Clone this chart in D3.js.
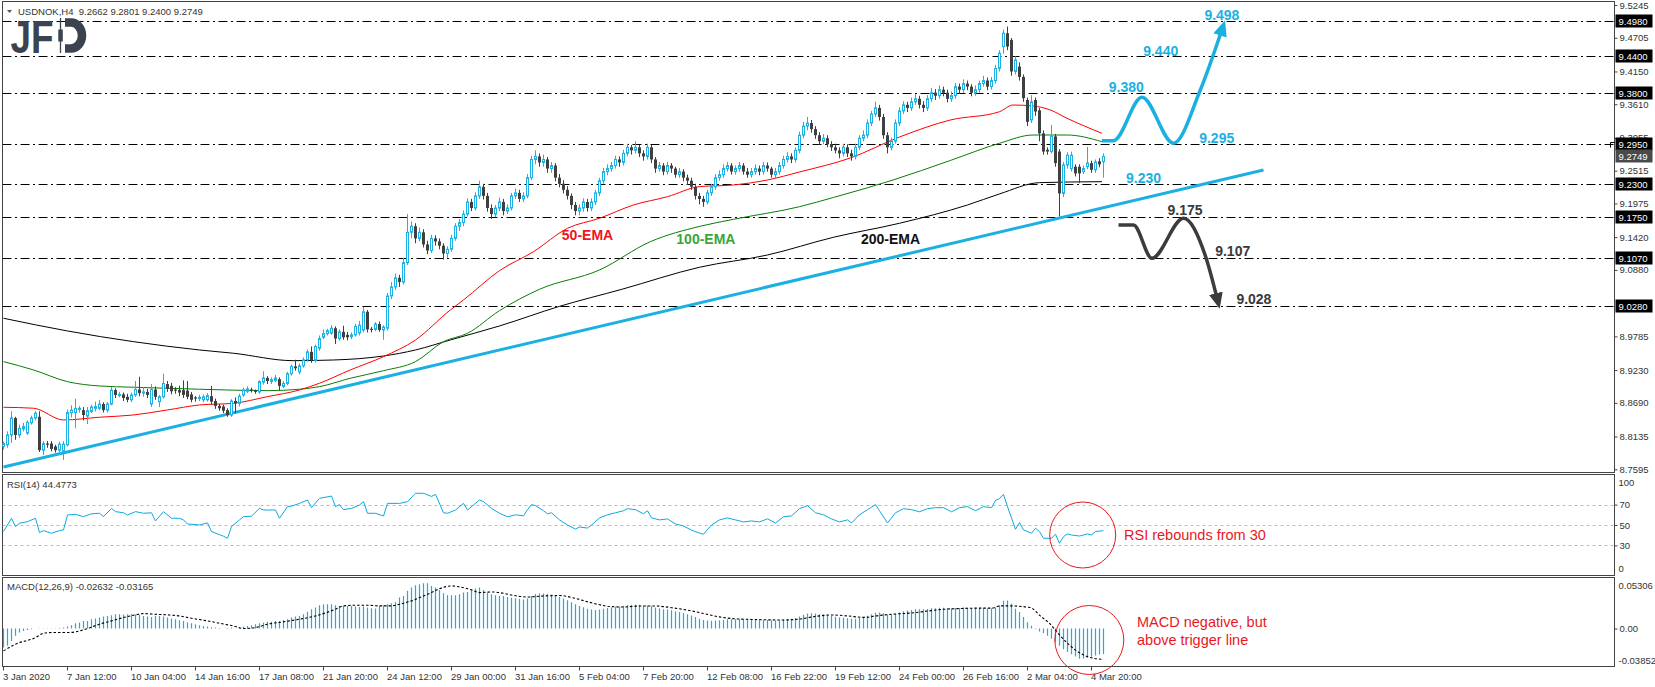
<!DOCTYPE html>
<html><head><meta charset="utf-8">
<script src="https://cdn.jsdelivr.net/npm/d3@7"></script>
<style>
html,body{margin:0;padding:0;background:#fff;}
svg{display:block;}
text{font-family:"Liberation Sans",Arial,sans-serif;}
</style></head><body>
<svg id="c" width="1655" height="687"></svg>
<script>
// ---------------- DATA ----------------
const symbolTitle = "USDNOK,H4  9.2662 9.2801 9.2400 9.2749";
const rsiTitle = "RSI(14) 44.4773";
const macdTitle = "MACD(12,26,9) -0.02632 -0.03165";

const opens = [
8.797,8.800,8.816,8.844,8.816,8.826,8.819,8.836,8.844,8.846,
8.791,8.802,8.802,8.797,8.791,8.789,8.800,8.853,8.853,8.858,
8.857,8.847,8.855,8.860,8.860,8.867,8.857,8.867,8.890,8.881,
8.883,8.879,8.874,8.882,8.891,8.885,8.887,8.867,8.891,8.871,
8.879,8.900,8.897,8.891,8.890,8.890,8.889,8.883,8.878,8.876,
8.874,8.874,8.880,8.872,8.864,8.863,8.857,8.849,8.872,8.868,
8.882,8.888,8.891,8.889,8.887,8.903,8.910,8.904,8.906,8.908,
8.896,8.901,8.917,8.929,8.920,8.930,8.940,8.953,8.939,8.959,
8.977,8.983,8.984,8.992,8.975,8.986,8.981,8.978,8.981,8.984,
8.989,9.019,8.991,8.990,8.999,8.989,8.992,9.045,9.060,9.075,
9.068,9.100,9.150,9.160,9.140,9.150,9.130,9.120,9.140,9.135,
9.128,9.115,9.122,9.140,9.160,9.166,9.180,9.200,9.190,9.210,
9.225,9.210,9.190,9.180,9.190,9.200,9.185,9.190,9.210,9.215,
9.205,9.210,9.240,9.270,9.275,9.265,9.270,9.255,9.260,9.240,
9.230,9.220,9.210,9.195,9.185,9.190,9.200,9.190,9.200,9.215,
9.235,9.250,9.255,9.260,9.270,9.265,9.280,9.290,9.285,9.290,
9.280,9.275,9.290,9.270,9.255,9.260,9.250,9.260,9.255,9.245,
9.250,9.240,9.235,9.225,9.210,9.205,9.200,9.215,9.225,9.240,
9.245,9.255,9.260,9.250,9.255,9.260,9.250,9.245,9.250,9.255,
9.250,9.260,9.255,9.245,9.250,9.260,9.270,9.275,9.270,9.285,
9.310,9.325,9.330,9.320,9.310,9.300,9.305,9.295,9.290,9.285,
9.280,9.290,9.280,9.275,9.290,9.305,9.310,9.330,9.345,9.355,
9.340,9.310,9.290,9.300,9.330,9.350,9.360,9.355,9.365,9.370,
9.360,9.355,9.370,9.380,9.375,9.385,9.380,9.370,9.375,9.390,
9.385,9.395,9.390,9.380,9.385,9.395,9.400,9.390,9.400,9.420,
9.456,9.478,9.467,9.415,9.423,9.406,9.368,9.335,9.368,9.351,
9.313,9.286,9.283,9.308,9.283,9.214,9.261,9.255,9.258,9.258,
9.250,9.258,9.264,9.253,9.267,9.2662];
const highs = [
8.805,8.822,8.855,8.846,8.833,8.836,8.840,8.848,8.855,8.855,
8.806,8.806,8.806,8.800,8.805,8.806,8.858,8.865,8.876,8.864,
8.862,8.862,8.866,8.871,8.874,8.870,8.870,8.895,8.893,8.887,
8.886,8.884,8.886,8.905,8.912,8.895,8.892,8.900,8.896,8.882,
8.917,8.905,8.902,8.895,8.897,8.906,8.905,8.887,8.880,8.882,
8.883,8.885,8.897,8.876,8.867,8.866,8.860,8.875,8.878,8.884,
8.894,8.896,8.894,8.891,8.906,8.921,8.913,8.911,8.915,8.911,
8.905,8.920,8.932,8.940,8.934,8.944,8.957,8.962,8.965,8.980,
8.990,8.991,8.997,8.995,8.990,8.996,8.986,8.985,8.999,9.004,
9.027,9.022,8.994,9.002,9.003,8.997,9.050,9.068,9.082,9.080,
9.108,9.180,9.168,9.165,9.158,9.155,9.136,9.146,9.145,9.140,
9.132,9.127,9.146,9.165,9.172,9.186,9.206,9.205,9.216,9.235,
9.230,9.215,9.196,9.195,9.207,9.205,9.196,9.215,9.222,9.220,
9.216,9.246,9.276,9.285,9.280,9.278,9.274,9.266,9.264,9.246,
9.236,9.226,9.214,9.200,9.196,9.206,9.205,9.206,9.220,9.240,
9.256,9.262,9.266,9.276,9.275,9.286,9.296,9.294,9.300,9.294,
9.285,9.296,9.294,9.274,9.266,9.264,9.266,9.264,9.258,9.256,
9.254,9.245,9.240,9.230,9.215,9.210,9.220,9.230,9.246,9.252,
9.262,9.266,9.264,9.260,9.266,9.264,9.256,9.256,9.262,9.260,
9.266,9.265,9.258,9.256,9.266,9.276,9.282,9.280,9.290,9.316,
9.332,9.340,9.335,9.325,9.315,9.312,9.310,9.300,9.296,9.290,
9.296,9.295,9.286,9.296,9.310,9.318,9.336,9.350,9.365,9.360,
9.345,9.315,9.306,9.336,9.356,9.366,9.365,9.372,9.378,9.375,
9.366,9.376,9.388,9.386,9.392,9.390,9.385,9.382,9.396,9.395,
9.402,9.400,9.394,9.392,9.400,9.408,9.405,9.406,9.426,9.450,
9.484,9.489,9.470,9.440,9.430,9.410,9.372,9.376,9.372,9.355,
9.318,9.290,9.327,9.312,9.287,9.266,9.282,9.283,9.262,9.262,
9.260,9.291,9.268,9.270,9.272,9.2801];
const lows = [
8.792,8.795,8.803,8.808,8.811,8.822,8.816,8.833,8.840,8.788,
8.783,8.795,8.789,8.787,8.788,8.775,8.797,8.845,8.827,8.853,
8.840,8.834,8.852,8.855,8.857,8.853,8.853,8.865,8.877,8.878,
8.872,8.870,8.870,8.879,8.880,8.879,8.877,8.862,8.874,8.862,
8.876,8.887,8.883,8.884,8.880,8.877,8.875,8.870,8.871,8.872,
8.870,8.871,8.866,8.859,8.856,8.852,8.846,8.846,8.852,8.863,
8.879,8.885,8.886,8.884,8.884,8.899,8.900,8.900,8.903,8.890,
8.893,8.898,8.914,8.922,8.916,8.927,8.937,8.935,8.935,8.955,
8.974,8.980,8.981,8.966,8.972,8.973,8.972,8.974,8.978,8.980,
8.985,8.985,8.985,8.987,8.986,8.973,8.988,9.040,9.055,9.060,
9.064,9.096,9.140,9.132,9.135,9.125,9.114,9.116,9.128,9.122,
9.105,9.108,9.118,9.136,9.152,9.160,9.176,9.185,9.186,9.205,
9.204,9.184,9.172,9.175,9.185,9.178,9.180,9.186,9.205,9.200,
9.200,9.206,9.236,9.262,9.258,9.258,9.248,9.248,9.234,9.224,
9.214,9.204,9.188,9.178,9.178,9.184,9.184,9.185,9.195,9.210,
9.230,9.244,9.250,9.255,9.258,9.260,9.275,9.278,9.280,9.274,
9.268,9.270,9.264,9.248,9.250,9.244,9.245,9.248,9.240,9.240,
9.234,9.228,9.220,9.204,9.196,9.192,9.196,9.210,9.220,9.235,
9.240,9.250,9.245,9.245,9.250,9.245,9.240,9.240,9.245,9.244,
9.245,9.250,9.240,9.238,9.245,9.255,9.265,9.264,9.265,9.280,
9.305,9.318,9.314,9.304,9.294,9.295,9.290,9.284,9.280,9.272,
9.275,9.274,9.268,9.270,9.285,9.300,9.305,9.325,9.340,9.334,
9.304,9.280,9.285,9.296,9.325,9.345,9.348,9.350,9.360,9.354,
9.348,9.350,9.365,9.368,9.370,9.374,9.364,9.365,9.370,9.378,
9.380,9.384,9.374,9.375,9.380,9.390,9.384,9.385,9.395,9.415,
9.444,9.450,9.408,9.410,9.400,9.365,9.325,9.330,9.342,9.300,
9.278,9.278,9.280,9.258,9.176,9.208,9.255,9.250,9.242,9.231,
9.246,9.254,9.248,9.248,9.257,9.2400];
const closes = [
8.802,8.816,8.844,8.816,8.827,8.830,8.837,8.844,8.852,8.791,
8.802,8.800,8.793,8.791,8.801,8.801,8.853,8.857,8.860,8.860,
8.849,8.856,8.862,8.863,8.867,8.857,8.867,8.890,8.882,8.883,
8.877,8.874,8.882,8.891,8.885,8.887,8.882,8.891,8.879,8.879,
8.901,8.892,8.888,8.889,8.886,8.882,8.879,8.874,8.876,8.878,
8.879,8.881,8.871,8.864,8.860,8.856,8.849,8.872,8.868,8.880,
8.890,8.892,8.889,8.887,8.904,8.910,8.905,8.907,8.910,8.897,
8.901,8.917,8.929,8.926,8.930,8.940,8.953,8.939,8.962,8.975,
8.983,8.988,8.992,8.975,8.986,8.977,8.977,8.981,8.995,8.997,
9.019,8.990,8.989,8.999,8.989,8.994,9.045,9.060,9.075,9.068,
9.100,9.150,9.160,9.140,9.150,9.130,9.120,9.140,9.135,9.128,
9.115,9.122,9.140,9.160,9.166,9.180,9.200,9.190,9.210,9.225,
9.210,9.190,9.180,9.190,9.200,9.185,9.190,9.210,9.215,9.205,
9.210,9.240,9.270,9.275,9.265,9.270,9.255,9.260,9.240,9.230,
9.220,9.210,9.195,9.185,9.190,9.200,9.190,9.200,9.215,9.235,
9.250,9.255,9.260,9.270,9.265,9.280,9.290,9.285,9.290,9.280,
9.275,9.290,9.270,9.255,9.260,9.250,9.260,9.255,9.245,9.250,
9.240,9.235,9.225,9.210,9.205,9.200,9.215,9.225,9.240,9.245,
9.255,9.260,9.250,9.255,9.260,9.250,9.245,9.250,9.255,9.250,
9.260,9.255,9.245,9.250,9.260,9.270,9.275,9.270,9.285,9.310,
9.325,9.330,9.320,9.310,9.300,9.305,9.295,9.290,9.285,9.280,
9.290,9.280,9.275,9.290,9.305,9.310,9.330,9.345,9.355,9.340,
9.310,9.290,9.300,9.330,9.350,9.360,9.355,9.365,9.370,9.360,
9.355,9.370,9.380,9.375,9.385,9.380,9.370,9.375,9.390,9.385,
9.395,9.390,9.380,9.385,9.395,9.400,9.390,9.400,9.420,9.445,
9.478,9.456,9.415,9.434,9.406,9.371,9.332,9.365,9.349,9.313,
9.283,9.283,9.308,9.264,9.214,9.261,9.277,9.277,9.247,9.247,
9.255,9.264,9.253,9.266,9.262,9.2749];

// moving averages: [bar index, value]
const ema50 = [[0,8.8617],[7.5,8.8601],[15,8.8408],[24,8.8453],[32.5,8.8490],[41,8.8573],[49,8.8655],[57.5,8.8683],[66,8.8792],[74,8.8902],[79,8.9013],[86.7,8.9232],[95,8.9451],[103,8.9726],[111.7,9.0220],[115,9.0385],[124,9.0868],[132.5,9.1181],[141,9.1566],[149,9.1731],[157.5,9.1950],[166,9.2087],[174,9.2252],[182.5,9.2280],[191,9.2362],[199,9.2494],[211.7,9.2724],[224,9.3070],[236.7,9.3350],[249,9.3487],[252.4,9.3597],[257.4,9.3581],[261.7,9.3515],[265.9,9.3378],[274.6,9.3131]];
const ema100 = [[0,8.9369],[7.5,8.9232],[16,8.9039],[24,8.8968],[32.5,8.8947],[49,8.8914],[66,8.8891],[74,8.8914],[79,8.8957],[86.7,8.9095],[95,8.9220],[103,8.9369],[110,8.9698],[116,8.9836],[124,9.0209],[134,9.0561],[149,9.0879],[161.7,9.1345],[174.2,9.1600],[182.5,9.1714],[199,9.1922],[207.5,9.2074],[215.8,9.2230],[222.4,9.2362],[236.7,9.2683],[249,9.2967],[257.4,9.3103],[265.9,9.3103],[274.6,9.2993]];
const ema200 = [[0,9.0084],[16,8.9874],[32.5,8.9698],[49,8.9561],[57.5,8.9507],[72.4,8.9385],[82.5,8.9396],[95,8.9462],[103,8.9561],[111.7,8.9726],[124,8.9957],[139,9.0280],[154.6,9.0561],[174,9.0924],[191,9.1126],[207.5,9.1418],[224,9.1649],[241,9.1950],[249,9.2132],[259,9.2318],[274.6,9.2334]];

const rsi = [[0,43.6],[2,56.6],[3,48.5],[4,51.7],[6,53.3],[8,56.6],[9,42.6],[10,44.5],[12,41.9],[14,44.5],[15,45.2],[16,59.8],[18,60.5],[20,58.2],[22,61],[24,61.5],[25,58.2],[27,66.3],[28,63.1],[30,62],[31,59.8],[33,63.1],[35,61.5],[37,62],[38,54],[40,63.1],[42,56.6],[44,56.6],[45,55],[46,51],[49,50.1],[51,52],[52,43.6],[55,39],[56,37],[57,48.5],[59,55],[60,58.2],[62,58.7],[64,66.3],[65,64.7],[68,64.7],[69,56.6],[71,68],[72,68.5],[74,71.2],[76,74.5],[77,67],[79,76.1],[82,78.4],[83,68],[84,70],[85,65],[87,66.3],[89,69.6],[90,72.9],[91,61.5],[93,61.5],[95,58.8],[96,71.2],[99,71.2],[101,72.9],[103,81.1],[105,81.1],[107,78],[108,80],[110,62],[111,61.5],[113,64.7],[115,71.2],[116,64.7],[119,74.5],[120,72.9],[122,66.3],[124,61.5],[126,58],[128,60],[130,59],[131,65],[132,70],[133,69],[135,64],[136,61],[137,62],[139,55],[141,50],[143,46],[144,48],[146,47],[147,50],[149,57],[151,60],[153,62],[155,64],[156,66],[158,65],[160,61],[161,64],[162,57],[164,55],[166,56],[168,51],[170,49],[172,45],[174,42],[175,41],[177,50],[179,55],[181,57],[183,55],[185,53],[187,54],[189,53],[191,56],[193,52],[195,58],[197,59],[199,66],[201,69],[203,62],[205,60],[207,56],[209,53],[211,55],[212,52],[214,60],[216,65],[218,70],[219,64],[221,52],[223,62],[225,66],[227,65],[229,63],[231,66],[233,67],[235,67],[237,63],[239,67],[241,68],[243,64],[245,68],[247,67],[248,74],[249,76],[250,80],[251,68],[253,45.8],[254,52.4],[255,45.2],[257,41.9],[258,46.8],[259,43.6],[260,37],[262,37],[263,41],[264,32.1],[265,38.6],[266,41.2],[267,40.2],[269,39.2],[271,41.2],[272,40.2],[273,43.6],[275,44.48]];

const macd = [
-0.0196,-0.0178,-0.0127,-0.0075,-0.0041,-0.0024,-0.0014,-0.0007,0.0000,0.0003,
0.0003,0.0003,0.0003,0.0003,0.0007,0.0010,0.0021,0.0034,0.0055,0.0062,
0.0079,0.0079,0.0096,0.0103,0.0113,0.0123,0.0130,0.0137,0.0147,0.0147,
0.0144,0.0147,0.0147,0.0144,0.0141,0.0130,0.0123,0.0120,0.0130,0.0130,
0.0123,0.0113,0.0103,0.0096,0.0086,0.0079,0.0062,0.0055,0.0045,0.0034,
0.0027,0.0021,0.0014,0.0010,0.0007,0.0000,0.0007,0.0010,0.0000,0.0010,
0.0021,0.0027,0.0034,0.0045,0.0055,0.0062,0.0069,0.0069,0.0079,0.0079,
0.0089,0.0096,0.0113,0.0123,0.0130,0.0147,0.0172,0.0199,0.0216,0.0240,
0.0250,0.0250,0.0250,0.0240,0.0233,0.0233,0.0233,0.0233,0.0226,0.0223,
0.0226,0.0216,0.0209,0.0206,0.0233,0.0240,0.0250,0.0261,0.0274,0.0319,
0.0336,0.0388,0.0422,0.0446,0.0456,0.0466,0.0466,0.0439,0.0422,0.0398,
0.0364,0.0343,0.0343,0.0343,0.0353,0.0370,0.0377,0.0388,0.0412,0.0422,
0.0398,0.0370,0.0353,0.0343,0.0336,0.0336,0.0325,0.0318,0.0312,0.0305,
0.0300,0.0310,0.0335,0.0355,0.0360,0.0362,0.0355,0.0350,0.0340,0.0325,
0.0310,0.0292,0.0270,0.0250,0.0232,0.0220,0.0205,0.0195,0.0192,0.0195,
0.0205,0.0212,0.0218,0.0225,0.0228,0.0235,0.0242,0.0245,0.0246,0.0242,
0.0236,0.0238,0.0230,0.0218,0.0210,0.0200,0.0195,0.0188,0.0178,0.0170,
0.0160,0.0148,0.0135,0.0118,0.0102,0.0088,0.0082,0.0080,0.0082,0.0085,
0.0090,0.0095,0.0095,0.0096,0.0098,0.0095,0.0090,0.0088,0.0088,0.0086,
0.0088,0.0088,0.0085,0.0084,0.0086,0.0092,0.0098,0.0100,0.0108,0.0125,
0.0142,0.0155,0.0158,0.0155,0.0148,0.0145,0.0138,0.0130,0.0122,0.0115,
0.0112,0.0106,0.0100,0.0102,0.0110,0.0118,0.0132,0.0148,0.0162,0.0165,
0.0158,0.0145,0.0142,0.0150,0.0165,0.0178,0.0185,0.0192,0.0198,0.0200,
0.0198,0.0202,0.0208,0.0210,0.0214,0.0214,0.0210,0.0208,0.0212,0.0212,
0.0216,0.0215,0.0210,0.0208,0.0210,0.0212,0.0208,0.0208,0.0218,0.0240,
0.0285,0.0290,0.0255,0.0205,0.0170,0.0120,0.0065,0.0030,-0.0005,-0.0030,
-0.0045,-0.0075,-0.0105,-0.0140,-0.0178,-0.0213,-0.0240,-0.0264,-0.0288,-0.0310,
-0.0309,-0.0300,-0.0290,-0.0278,-0.0268,-0.0263];
const macdSignal = [[0,-0.0230],[3,-0.0161],[8,-0.0093],[10,-0.0048],[12,-0.0041],[16,-0.0041],[18,-0.0034],[21,0.0000],[24,0.0045],[27,0.0079],[30,0.0113],[33,0.0141],[35,0.0154],[38,0.0147],[41,0.0141],[44,0.0130],[47,0.0106],[51,0.0079],[54,0.0055],[58,0.0021],[60,0.0000],[63,0.0010],[66,0.0045],[70,0.0069],[74,0.0096],[78,0.0130],[83,0.0199],[85,0.0233],[88,0.0240],[91,0.0240],[94,0.0233],[97,0.0233],[99,0.0250],[102,0.0285],[105,0.0336],[107,0.0370],[109,0.0410],[112,0.0439],[114,0.0429],[117,0.0398],[119,0.0370],[122,0.0377],[124,0.0370],[127,0.0345],[131,0.0325],[135,0.0335],[139,0.0340],[143,0.0310],[147,0.0265],[151,0.0230],[155,0.0222],[159,0.0232],[163,0.0232],[167,0.0215],[171,0.0190],[175,0.0155],[179,0.0120],[183,0.0100],[187,0.0094],[191,0.0090],[195,0.0088],[199,0.0098],[203,0.0125],[207,0.0140],[211,0.0130],[215,0.0115],[219,0.0135],[223,0.0150],[227,0.0160],[231,0.0180],[235,0.0198],[239,0.0206],[243,0.0210],[247,0.0210],[249.2,0.0233],[251.7,0.0233],[256.7,0.0216],[259.2,0.0130],[261.7,0.0045],[264.2,-0.0075],[266.7,-0.0178],[269.2,-0.0254],[271.7,-0.0298],[275,-0.03165]];

const priceTicks = [9.5245,9.4705,9.4150,9.3610,9.3055,9.2515,9.1975,9.1420,9.0880,8.9785,8.9230,8.8690,8.8135,8.7595];
const levels = [9.4980,9.4400,9.3800,9.2950,9.2300,9.1750,9.1070,9.0280];
const lastPrice = 9.2749;
const rsiLevels = [70,50,30];
const timeLabels = ["3 Jan 2020","7 Jan 12:00","10 Jan 04:00","14 Jan 16:00","17 Jan 08:00","21 Jan 20:00","24 Jan 12:00","29 Jan 00:00","31 Jan 16:00","5 Feb 04:00","7 Feb 20:00","12 Feb 08:00","16 Feb 22:00","19 Feb 12:00","24 Feb 00:00","26 Feb 16:00","2 Mar 04:00","4 Mar 20:00"];
const timeLabelBars = [0,16,32,48,64,80,96,112,128,144,160,176,192,208,224,240,256,272];

// drawn analysis: [bar index, price]
const trendLine = [[0,8.7634],[315,9.2527]];
const bullPath = [[274.6,9.3009],[277.5,9.3009],[284.6,9.3724],[292.5,9.2967],[299.2,9.3845],[305,9.4916]];
const bearPath = [[278.75,9.1621],[282.5,9.1621],[287.1,9.1072],[295,9.1731],[300.4,9.1126],[303.75,9.0319]];
const bullLabels = [["9.498",304.6,9.5080],["9.440",289.3,9.4492],["9.380",280.7,9.3889],["9.295",303.3,9.3049],["9.230",285,9.2390]];
const bearLabels = [["9.175",295.4,9.1868],["9.107",307.3,9.1192],["9.028",312.6,9.0402]];
const emaLabels = [["50-EMA",146,9.1456,"#f0141e"],["100-EMA",175.6,9.1385,"#3aa63a"],["200-EMA",221.75,9.1385,"#111"]];

// ---------------- DRAW ----------------
const svg = d3.select("#c");
const BLUE = "#1bb0e2", DARK = "#3c3c3c", CANDLE_UP = "#1eb2e4", CANDLE_DN = "#404040";
const L = 2.5, R = 1614.5;
const main = {t:1.5,b:472.5}, rp = {t:474.5,b:575.5}, mp = {t:577.5,b:666.5};

const x = d3.scaleLinear().domain([0,275]).range([3.5,1103.5]);
const y = d3.scaleLinear().domain([8.7595,9.5245]).range([469.3,5]);
const yR = d3.scaleLinear().domain([0,100]).range([576,474]);
const yM = d3.scaleLinear().domain([-0.03852,0.05306]).range([666,577]);

const defs = svg.append("defs");
[["cm",main],["cr",rp],["cmc",mp]].forEach(([id,p])=>{
  defs.append("clipPath").attr("id",id).append("rect").attr("x",L).attr("y",p.t).attr("width",R-L).attr("height",p.b-p.t);
});
function marker(id,color){
  defs.append("marker").attr("id",id).attr("viewBox","0 0 16 14").attr("refX",11).attr("refY",7)
    .attr("markerWidth",16).attr("markerHeight",14).attr("markerUnits","userSpaceOnUse").attr("orient","auto")
    .append("path").attr("d","M0,0 L16,7 L0,14 Z").attr("fill",color);
}
marker("ab",BLUE); marker("ak",DARK);

// panel borders
[main,rp,mp].forEach(p=>{
  svg.append("rect").attr("x",L).attr("y",p.t).attr("width",R-L).attr("height",p.b-p.t)
    .attr("fill","none").attr("stroke","#444").attr("stroke-width",1);
});

const gMain = svg.append("g").attr("clip-path","url(#cm)");

// horizontal levels
gMain.selectAll("line.lvl").data(levels).join("line").attr("class","lvl")
  .attr("x1",L).attr("x2",R).attr("y1",d=>Math.round(y(d))+0.5).attr("y2",d=>Math.round(y(d))+0.5)
  .attr("stroke","#000").attr("stroke-width",1).attr("stroke-dasharray","9,3.5,2,3.5");

// EMAs
const ln = d3.line().x(d=>x(d[0])).y(d=>y(d[1]));
const sm = d3.line().x(d=>x(d[0])).y(d=>y(d[1])).curve(d3.curveMonotoneX);
gMain.append("path").attr("d",sm(ema200)).attr("fill","none").attr("stroke","#000").attr("stroke-width",1);
gMain.append("path").attr("d",sm(ema100)).attr("fill","none").attr("stroke","#0a7d0a").attr("stroke-width",1);
gMain.append("path").attr("d",sm(ema50)).attr("fill","none").attr("stroke","#ff0000").attr("stroke-width",1);

// trend line
gMain.append("path").attr("d",ln(trendLine)).attr("fill","none").attr("stroke",BLUE).attr("stroke-width",3);

// candles
const idx = d3.range(closes.length);
const cg = gMain.append("g");
idx.forEach(i=>{
  const up = closes[i] >= opens[i];
  const cx = Math.round(x(i)-0.5)+0.5;
  const col = up ? CANDLE_UP : CANDLE_DN;
  cg.append("line").attr("x1",cx).attr("x2",cx).attr("y1",y(highs[i])).attr("y2",y(lows[i])).attr("stroke",col).attr("stroke-width",1);
  const top = y(Math.max(opens[i],closes[i])), bot = y(Math.min(opens[i],closes[i]));
  const h = Math.max(1, bot-top);
  if(up){
    cg.append("rect").attr("x",cx-1).attr("y",top).attr("width",2).attr("height",h)
      .attr("fill","#fff").attr("stroke",col).attr("stroke-width",1);
  } else {
    cg.append("rect").attr("x",cx-1.5).attr("y",top).attr("width",3).attr("height",h).attr("fill",col);
  }
});

// projections
const cl = d3.line().x(d=>x(d[0])).y(d=>y(d[1])).curve(d3.curveMonotoneX);
gMain.append("path").attr("d",cl(bullPath)).attr("fill","none").attr("stroke",BLUE).attr("stroke-width",3.5).attr("marker-end","url(#ab)");
gMain.append("path").attr("d",cl(bearPath)).attr("fill","none").attr("stroke",DARK).attr("stroke-width",3.5).attr("marker-end","url(#ak)");

svg.selectAll("text.bl").data(bullLabels).join("text").attr("class","bl")
  .attr("x",d=>x(d[1])).attr("y",d=>y(d[2])).attr("text-anchor","middle").attr("dominant-baseline","central")
  .attr("font-size",14).attr("font-weight","bold").attr("fill",BLUE).text(d=>d[0]);
svg.selectAll("text.kl").data(bearLabels).join("text").attr("class","kl")
  .attr("x",d=>x(d[1])).attr("y",d=>y(d[2])).attr("text-anchor","middle").attr("dominant-baseline","central")
  .attr("font-size",14).attr("font-weight","bold").attr("fill","#3a3a3a").text(d=>d[0]);
svg.selectAll("text.el").data(emaLabels).join("text").attr("class","el")
  .attr("x",d=>x(d[1])).attr("y",d=>y(d[2])).attr("text-anchor","middle").attr("dominant-baseline","central")
  .attr("font-size",14).attr("font-weight","bold").attr("fill",d=>d[3]).text(d=>d[0]);

// price axis
const ay = svg.append("g").attr("transform",`translate(${R},0)`)
  .call(d3.axisRight(y).tickValues(priceTicks).tickSize(3).tickPadding(2).tickFormat(d3.format(".4f")));
ay.select(".domain").remove();
ay.selectAll("text").attr("font-size",9.5).attr("fill","#333").attr("font-family","Liberation Sans, Arial, sans-serif");
ay.selectAll("line").attr("stroke","#444");

// level boxes
const lb = svg.append("g");
levels.forEach(v=>{
  const yy = Math.round(y(v));
  lb.append("rect").attr("x",R+1).attr("y",yy-6.5).attr("width",37).attr("height",13).attr("fill","#000");
  lb.append("text").attr("x",R+4).attr("y",yy).attr("dominant-baseline","central").attr("font-size",9.5).attr("fill","#fff").text(v.toFixed(4));
});
{
  const yy = Math.round(y(lastPrice));
  lb.append("rect").attr("x",R+1).attr("y",yy-6.5).attr("width",37).attr("height",13).attr("fill","#4a4a4a");
  lb.append("text").attr("x",R+4).attr("y",yy).attr("dominant-baseline","central").attr("font-size",9.5).attr("fill","#fff").text(lastPrice.toFixed(4));
}
svg.append("path").attr("d",`M${R-4},${Math.round(y(9.2950))+3.5} V${Math.round(y(9.2950))-1.5} H${R}`).attr("fill","none").attr("stroke","#000");

// header + logo
svg.append("path").attr("d","M7,10 L12,10 L9.5,13 Z").attr("fill","#555");
svg.append("text").attr("x",18).attr("y",14.5).attr("font-size",9.5).attr("fill","#333").attr("xml:space","preserve").text(symbolTitle);
const logo = svg.append("g").attr("fill","#3b4350");
logo.append("text").attr("x",10.5).attr("y",52.7).attr("font-size",47).attr("font-weight","bold")
  .attr("textLength",43).attr("lengthAdjust","spacingAndGlyphs").attr("fill","#3b4350").text("JF");
logo.append("line").attr("x1",60.5).attr("x2",60.5).attr("y1",18).attr("y2",53).attr("stroke","#3b4350").attr("stroke-width",1.3);
logo.append("rect").attr("x",58.3).attr("y",29.5).attr("width",4.5).attr("height",12).attr("fill","#3b4350");
logo.append("path").attr("d","M65,22.6 H71 A11,12.9 0 0 1 71,48.4 H65").attr("fill","none").attr("stroke","#3b4350").attr("stroke-width",8.5);

// RSI panel
const gR = svg.append("g").attr("clip-path","url(#cr)");
gR.selectAll("line").data(rsiLevels).join("line")
  .attr("x1",L).attr("x2",R).attr("y1",d=>Math.round(yR(d))+0.5).attr("y2",d=>Math.round(yR(d))+0.5)
  .attr("stroke","#bdbdbd").attr("stroke-dasharray","3,3");
gR.append("path").attr("d",d3.line().x(d=>x(d[0])).y(d=>yR(d[1]))(rsi)).attr("fill","none").attr("stroke","#12a8dc").attr("stroke-width",1);
svg.append("text").attr("x",7).attr("y",487.5).attr("font-size",9.5).attr("fill","#333").text(rsiTitle);
const ar = svg.append("g").attr("transform",`translate(${R},0)`)
  .call(d3.axisRight(yR).tickValues(rsiLevels).tickSize(3).tickPadding(2));
ar.select(".domain").remove();
ar.selectAll("text").attr("font-size",9.5).attr("fill","#333");
ar.selectAll("line").attr("stroke","#444");
svg.append("text").attr("x",R+4).attr("y",482).attr("dominant-baseline","central").attr("font-size",9.5).attr("fill","#333").text("100");
svg.append("text").attr("x",R+4).attr("y",568).attr("dominant-baseline","central").attr("font-size",9.5).attr("fill","#333").text("0");

// MACD panel
const gM = svg.append("g").attr("clip-path","url(#cmc)");
gM.selectAll("line.bar").data(idx).join("line").attr("class","bar")
  .attr("x1",i=>Math.round(x(i)-0.5)+0.5).attr("x2",i=>Math.round(x(i)-0.5)+0.5)
  .attr("y1",yM(0)).attr("y2",i=>yM(macd[i])).attr("stroke","#1aaede").attr("stroke-width",1.2);
gM.append("path").attr("d",d3.line().x(d=>x(d[0])).y(d=>yM(d[1])).curve(d3.curveMonotoneX)(macdSignal)).attr("fill","none")
  .attr("stroke","#000").attr("stroke-width",1.1).attr("stroke-dasharray","2.5,2");
svg.append("text").attr("x",7).attr("y",590).attr("font-size",9.5).attr("fill","#333").text(macdTitle);
const am = svg.append("g").attr("transform",`translate(${R},0)`)
  .call(d3.axisRight(yM).tickValues([0]).tickSize(3).tickPadding(2).tickFormat(d3.format(".2f")));
am.select(".domain").remove();
am.selectAll("text").attr("font-size",9.5).attr("fill","#333");
am.selectAll("line").attr("stroke","#444");
svg.append("text").attr("x",R+4).attr("y",585).attr("dominant-baseline","central").attr("font-size",9.5).attr("fill","#333").text("0.05306");
svg.append("text").attr("x",R+4).attr("y",660).attr("dominant-baseline","central").attr("font-size",9.5).attr("fill","#333").text("-0.03852");

// time axis
const ax = svg.append("g").attr("transform",`translate(0,${mp.b})`)
  .call(d3.axisBottom(x).tickValues(timeLabelBars).tickSize(4).tickPadding(3).tickFormat((d,i)=>timeLabels[i]));
ax.select(".domain").remove();
ax.selectAll("line").attr("stroke","#444").attr("transform","translate(-0.5,0)");
ax.selectAll("text").attr("font-size",9.5).attr("fill","#333").attr("text-anchor","start").attr("dx",-1);

// notes
const RED = "#e8181e";
svg.append("circle").attr("cx",1082.7).attr("cy",535).attr("r",33).attr("fill","none").attr("stroke",RED).attr("stroke-width",1);
svg.append("circle").attr("cx",1089.3).attr("cy",640).attr("r",34.5).attr("fill","none").attr("stroke",RED).attr("stroke-width",1);
svg.append("text").attr("x",1124).attr("y",535).attr("dominant-baseline","central").attr("font-family","Lato, sans-serif").attr("font-size",14.5).attr("fill",RED).text("RSI rebounds from 30");
svg.append("text").attr("x",1137).attr("y",621.7).attr("dominant-baseline","central").attr("font-family","Lato, sans-serif").attr("font-size",14.5).attr("fill",RED).text("MACD negative, but");
svg.append("text").attr("x",1137).attr("y",640).attr("dominant-baseline","central").attr("font-family","Lato, sans-serif").attr("font-size",14.5).attr("fill",RED).text("above trigger line");
</script></body></html>
